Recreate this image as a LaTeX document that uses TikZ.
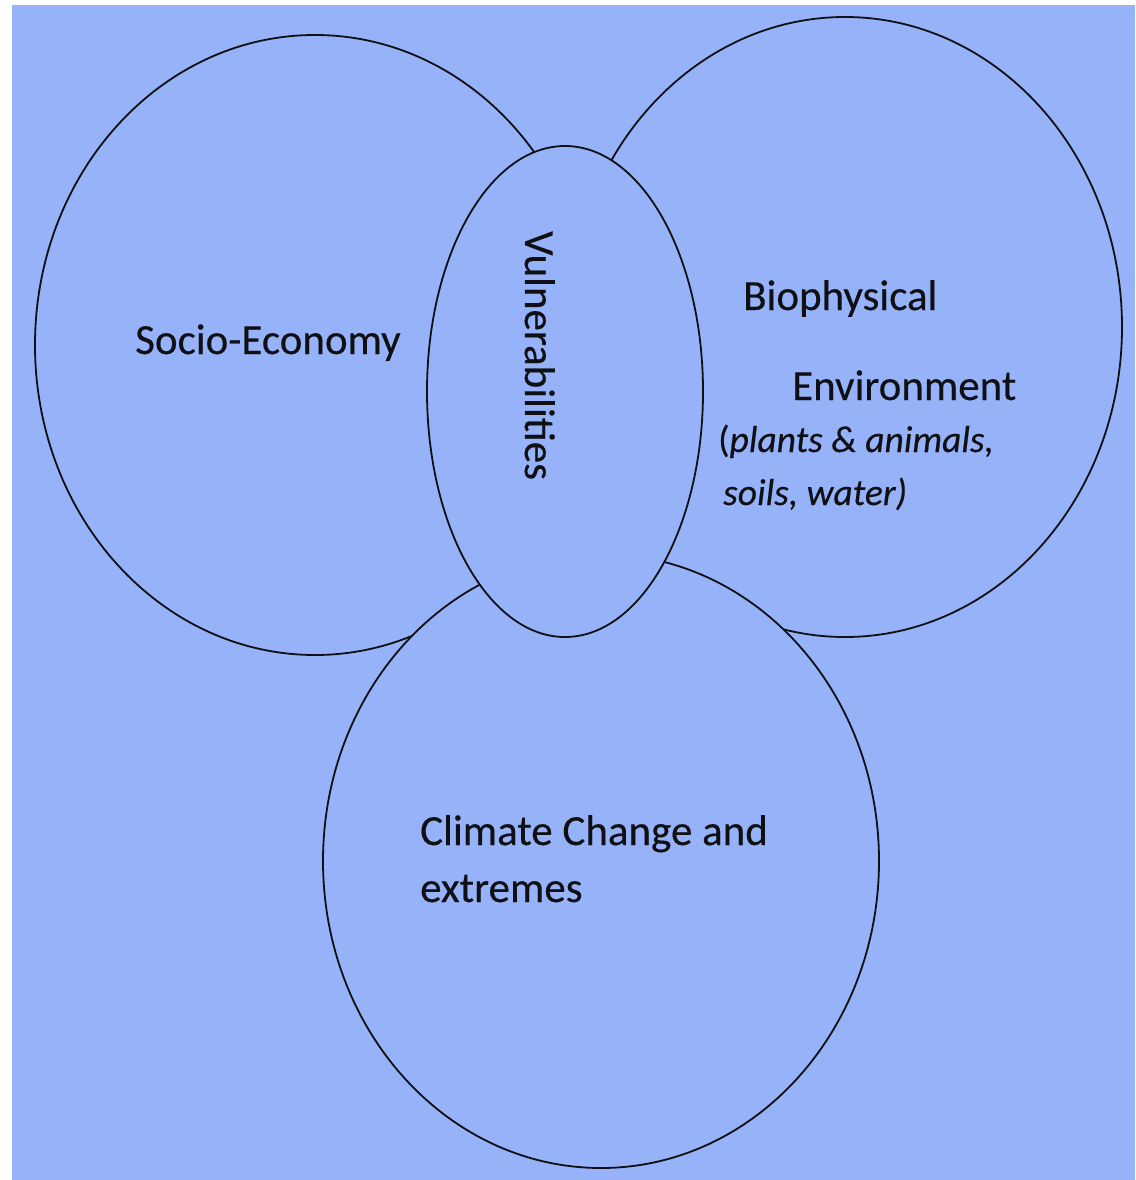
\documentclass[tikz,border=0pt]{standalone}
\usepackage{fontspec}
\setmainfont{Carlito}
\newfontfamily\heavyfont{Carlito}[FakeBold=0.35]
\usetikzlibrary{shapes.geometric}
\definecolor{bgblue}{RGB}{150,179,249}
\definecolor{ink}{RGB}{15,15,20}
\tikzset{
  blob/.style={ellipse, draw=ink, fill=bgblue, line width=1.8pt, inner sep=0pt, outer sep=0pt},
  lbl/.style={anchor=base west, inner sep=0pt, text=ink, font=\heavyfont\fontsize{43}{50}\selectfont},
  ilbl/.style={anchor=base west, inner sep=0pt, text=ink, font=\heavyfont\fontsize{37.5}{44}\selectfont\itshape},
}
\begin{document}
\begin{tikzpicture}[x=1pt,y=-1pt]
\useasboundingbox (0,0) rectangle (1135,1180);
\fill[white] (0,0) rectangle (1135,1180);
\fill[bgblue] (12,5) rectangle (1135,1180);
\node[blob, minimum width=560, minimum height=620] (soc) at (315,345) {};
\node[blob, minimum width=554, minimum height=620] (bio) at (845,327) {};
\node[blob, minimum width=556, minimum height=614] (cli) at (601,861) {};
\node[blob, minimum width=276, minimum height=491] (vul) at (565,391.5) {};
\node[lbl] (tsoc) at (135,354) {Socio-Economy};
\node[lbl] (tbio1) at (743,310) {Biophysical};
\node[lbl] (tbio2) at (792,400) {Environment};
\node[anchor=base west, inner sep=0pt, text=ink, font=\heavyfont\fontsize{37.5}{44}\selectfont] (tbio3) at (718,452) {(\textit{plants \& animals,}};
\node[ilbl] (tbio4) at (723,505) {soils, water)};
\node[lbl] (tcli1) at (420,845) {Climate Change and};
\node[lbl] (tcli2) at (420,902) {extremes};
\node[lbl, rotate=-90] (tvul) at (525,231) {Vulnerabilities};
\end{tikzpicture}
\end{document}
